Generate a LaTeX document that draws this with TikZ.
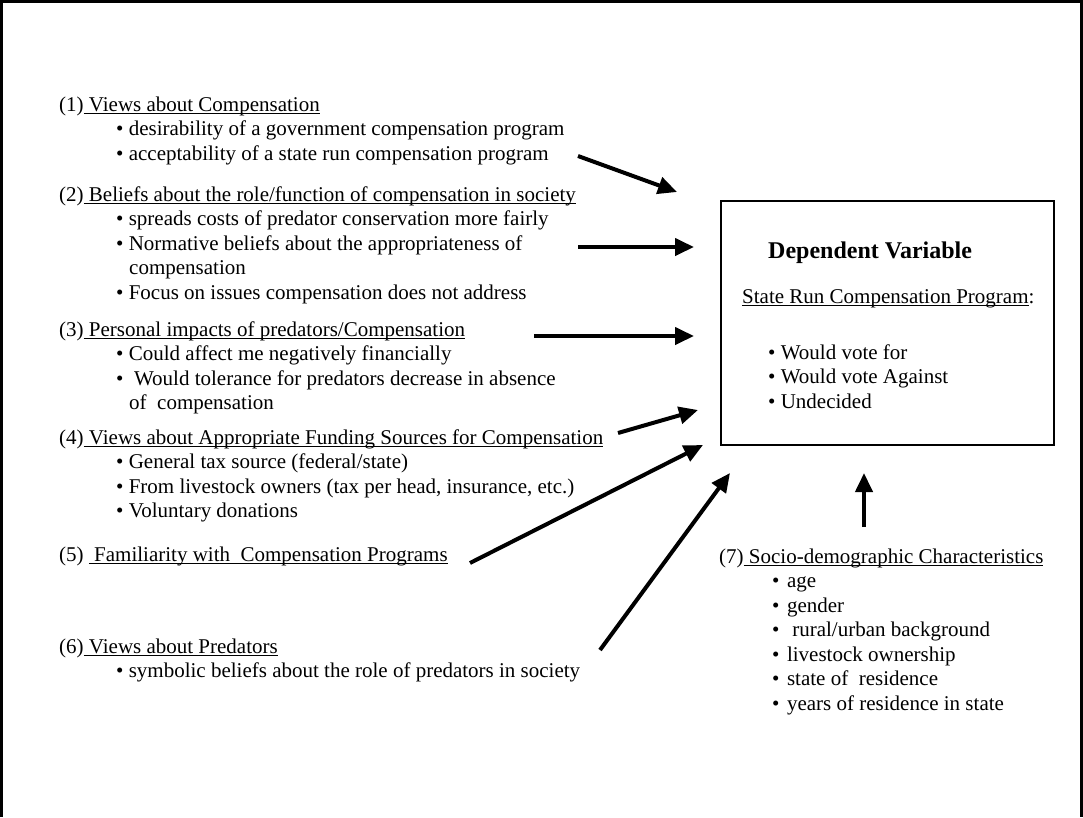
\documentclass[tikz,border=0pt]{standalone}
\usepackage{fontspec}
\setmainfont{Liberation Serif}
\usetikzlibrary{arrows.meta}

% word-style underline, runs through descenders
\newcommand{\undl}[1]{\setbox0\hbox{#1}\rlap{\rule[-3pt]{\wd0}{1.3pt}}\box0}
% bullet gap of the socio-demographic list
\newcommand{\sdb}{\textbullet\hspace{7.5pt}}

\tikzset{
  txt/.style={anchor=base west,inner sep=0pt,font=\fontsize{21}{24.5}\selectfont},
  link/.style={-{Triangle[length=19pt,width=17pt]},line width=4pt},
}

\begin{document}
\begin{tikzpicture}[x=1pt,y=-1pt]
  \useasboundingbox (0,0) rectangle (1083,817);
  % frame, open at the bottom
  \draw[line width=2.5pt] (1.5,817) -- (1.5,1.5) -- (1081.5,1.5) -- (1081.5,817);

  % (1)
  \node[txt] (h1) at (59,111) {(1)\undl{\ Views about Compensation}};
  \node[txt] (i1a) at (116,135.5) {\textbullet\ desirability of a government compensation program};
  \node[txt] (i1b) at (116,160) {\textbullet\ acceptability of a state run compensation program};
  % (2)
  \node[txt] (h2) at (59,201) {(2)\undl{\ Beliefs about the role/function of compensation in society}};
  \node[txt] (i2a) at (116,225.5) {\textbullet\ spreads costs of predator conservation more fairly};
  \node[txt] (i2b) at (116,250) {\textbullet\ Normative beliefs about the appropriateness of};
  \node[txt] (i2c) at (129,274.5) {compensation};
  \node[txt] (i2d) at (116,299) {\textbullet\ Focus on issues compensation does not address};
  % (3)
  \node[txt] (h3) at (59,336) {(3)\undl{\ Personal impacts of predators/Compensation}};
  \node[txt] (i3a) at (116,360.5) {\textbullet\ Could affect me negatively financially};
  \node[txt] (i3b) at (116,385) {\textbullet\ \ Would tolerance for predators decrease in absence};
  \node[txt] (i3c) at (129,409.5) {of\ \ compensation};
  % (4)
  \node[txt] (h4) at (59,444) {(4)\undl{\ Views about Appropriate Funding Sources for Compensation}};
  \node[txt] (i4a) at (116,468.5) {\textbullet\ General tax source (federal/state)};
  \node[txt] (i4b) at (116,493) {\textbullet\ From livestock owners (tax per head, insurance, etc.)};
  \node[txt] (i4c) at (116,517.5) {\textbullet\ Voluntary donations};
  % (5)
  \node[txt] (h5) at (59,561) {(5)\ \undl{\ Familiarity with\ \ Compensation Programs}};
  % (6)
  \node[txt] (h6) at (59,653) {(6)\undl{\ Views about Predators}};
  \node[txt] (i6a) at (116,677.5) {\textbullet\ symbolic beliefs about the role of predators in society};
  % (7)
  \node[txt] (h7) at (719,563) {(7)\undl{\ Socio-demographic Characteristics}};
  \node[txt] (i7a) at (772,587.5) {\sdb age};
  \node[txt] (i7b) at (772,612) {\sdb gender};
  \node[txt] (i7c) at (772,636.5) {\sdb\ rural/urban background};
  \node[txt] (i7d) at (772,661) {\sdb livestock ownership};
  \node[txt] (i7e) at (772,685.5) {\sdb state of\ \ residence};
  \node[txt] (i7f) at (772,710) {\sdb years of residence in state};

  % dependent variable box
  \node[draw,line width=2.5pt,minimum width=333pt,minimum height=244pt,inner sep=0pt] (dv) at (887.5,323) {};
  \node[txt,font=\fontsize{24}{28}\selectfont\bfseries] (dvt) at (768,258) {Dependent Variable};
  \node[txt] (dvs) at (742,303) {\undl{State Run Compensation Program}:};
  \node[txt] (dva) at (768,359) {\textbullet\ Would vote for};
  \node[txt] (dvb) at (768,383.5) {\textbullet\ Would vote Against};
  \node[txt] (dvc) at (768,408) {\textbullet\ Undecided};

  % arrow ends
  \coordinate (a1s) at (578,156); \coordinate (a1e) at (677,192);
  \coordinate (a2s) at (578,247); \coordinate (a2e) at (694,247);
  \coordinate (a3s) at (534,336); \coordinate (a3e) at (694,336);
  \coordinate (a4s) at (618,433); \coordinate (a4e) at (698,410);
  \coordinate (a5s) at (470,563); \coordinate (a5e) at (703,445);
  \coordinate (a6s) at (600,650); \coordinate (a6e) at (730,473);
  \coordinate (a7s) at (864,527); \coordinate (a7e) at (864,473);
  \foreach \n in {1,...,7}
    \draw[link] (a\n s) -- (a\n e);
\end{tikzpicture}
\end{document}
